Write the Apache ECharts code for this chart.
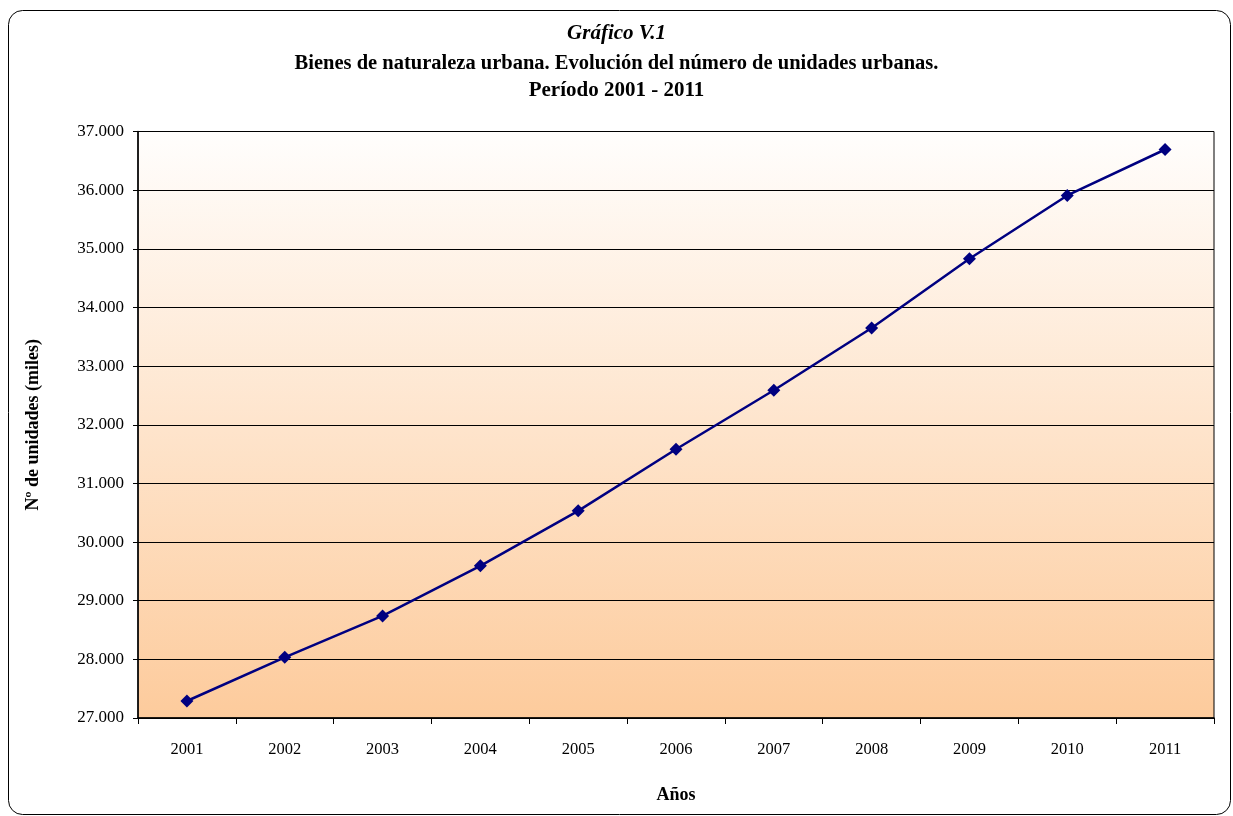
<!DOCTYPE html>
<html>
<head>
<meta charset="utf-8">
<script src="https://cdn.jsdelivr.net/npm/echarts@6/dist/echarts.min.js"></script>
<style>
html,body{margin:0;padding:0;background:#fff;}
#c{width:1233px;height:816px;}
</style>
</head>
<body>
<div id="c"></div>
<script>
const years = ['2001','2002','2003','2004','2005','2006','2007','2008','2009','2010','2011'];
const unidades = [27290, 28034, 28740, 29595, 30532, 31583, 32588, 33649, 34831, 35910, 36693];
const yMin = 27000, yMax = 37000, yStep = 1000;

const chart = echarts.init(document.getElementById('c'), null, {renderer:'canvas'});
const serif = '"Liberation Serif", "Times New Roman", serif';
const fmt = v => String(v).replace(/\B(?=(\d{3})+(?!\d))/g, '.');

chart.setOption({
  backgroundColor: '#ffffff',
  animation: false,
  graphic: [{
    type: 'rect', z: -10,
    shape: {x: 8.5, y: 10.5, width: 1222, height: 804, r: 14},
    style: {fill: 'none', stroke: '#000', lineWidth: 1}
  }],
  title: [
    {text: 'Gráfico V.1', left: 'center', top: 18,
     textStyle: {fontFamily: serif, fontSize: 21, fontStyle: 'italic', fontWeight: 'bold', color: '#000'}},
    {text: 'Bienes de naturaleza urbana. Evolución del número de unidades urbanas.', left: 'center', top: 48,
     textStyle: {fontFamily: serif, fontSize: 20.5, fontWeight: 'bold', color: '#000'}},
    {text: 'Período 2001 - 2011', left: 'center', top: 75,
     textStyle: {fontFamily: serif, fontSize: 21, fontWeight: 'bold', color: '#000'}}
  ],
  grid: {left: 138, right: 19, top: 131.5, bottom: 98, show: true,
    backgroundColor: new echarts.graphic.LinearGradient(0,0,0,1,[
      {offset:0, color:'#fffefd'},{offset:1, color:'#fdcb9c'}]),
    borderColor: '#000', borderWidth: 1},
  xAxis: {
    type: 'category', data: years, boundaryGap: true,
    name: 'Años', nameLocation: 'middle', nameGap: 68,
    nameTextStyle: {fontFamily: serif, fontSize: 18, fontWeight: 'bold', color: '#000'},
    axisLine: {lineStyle: {color: '#000', width: 1.5}},
    axisTick: {show: true, length: 6, lineStyle: {color: '#000'}},
    axisLabel: {fontFamily: serif, fontSize: 16.5, color: '#000', margin: 23}
  },
  yAxis: {
    type: 'value', min: yMin, max: yMax, interval: yStep,
    name: 'Nº de unidades (miles)', nameLocation: 'middle', nameGap: 96,
    nameTextStyle: {fontFamily: serif, fontSize: 18, fontWeight: 'bold', color: '#000'},
    axisLine: {show: true, lineStyle: {color: '#000', width: 1.5}},
    axisTick: {show: true, length: 5, lineStyle: {color: '#000'}},
    axisLabel: {fontFamily: serif, fontSize: 17, color: '#000', margin: 14, formatter: fmt},
    splitLine: {show: true, lineStyle: {color: '#000', width: 1}}
  },
  series: [{
    type: 'line', data: unidades,
    symbol: 'diamond', symbolSize: 13,
    lineStyle: {color: '#000080', width: 2.5},
    itemStyle: {color: '#000080'}
  }]
});
</script>
</body>
</html>
